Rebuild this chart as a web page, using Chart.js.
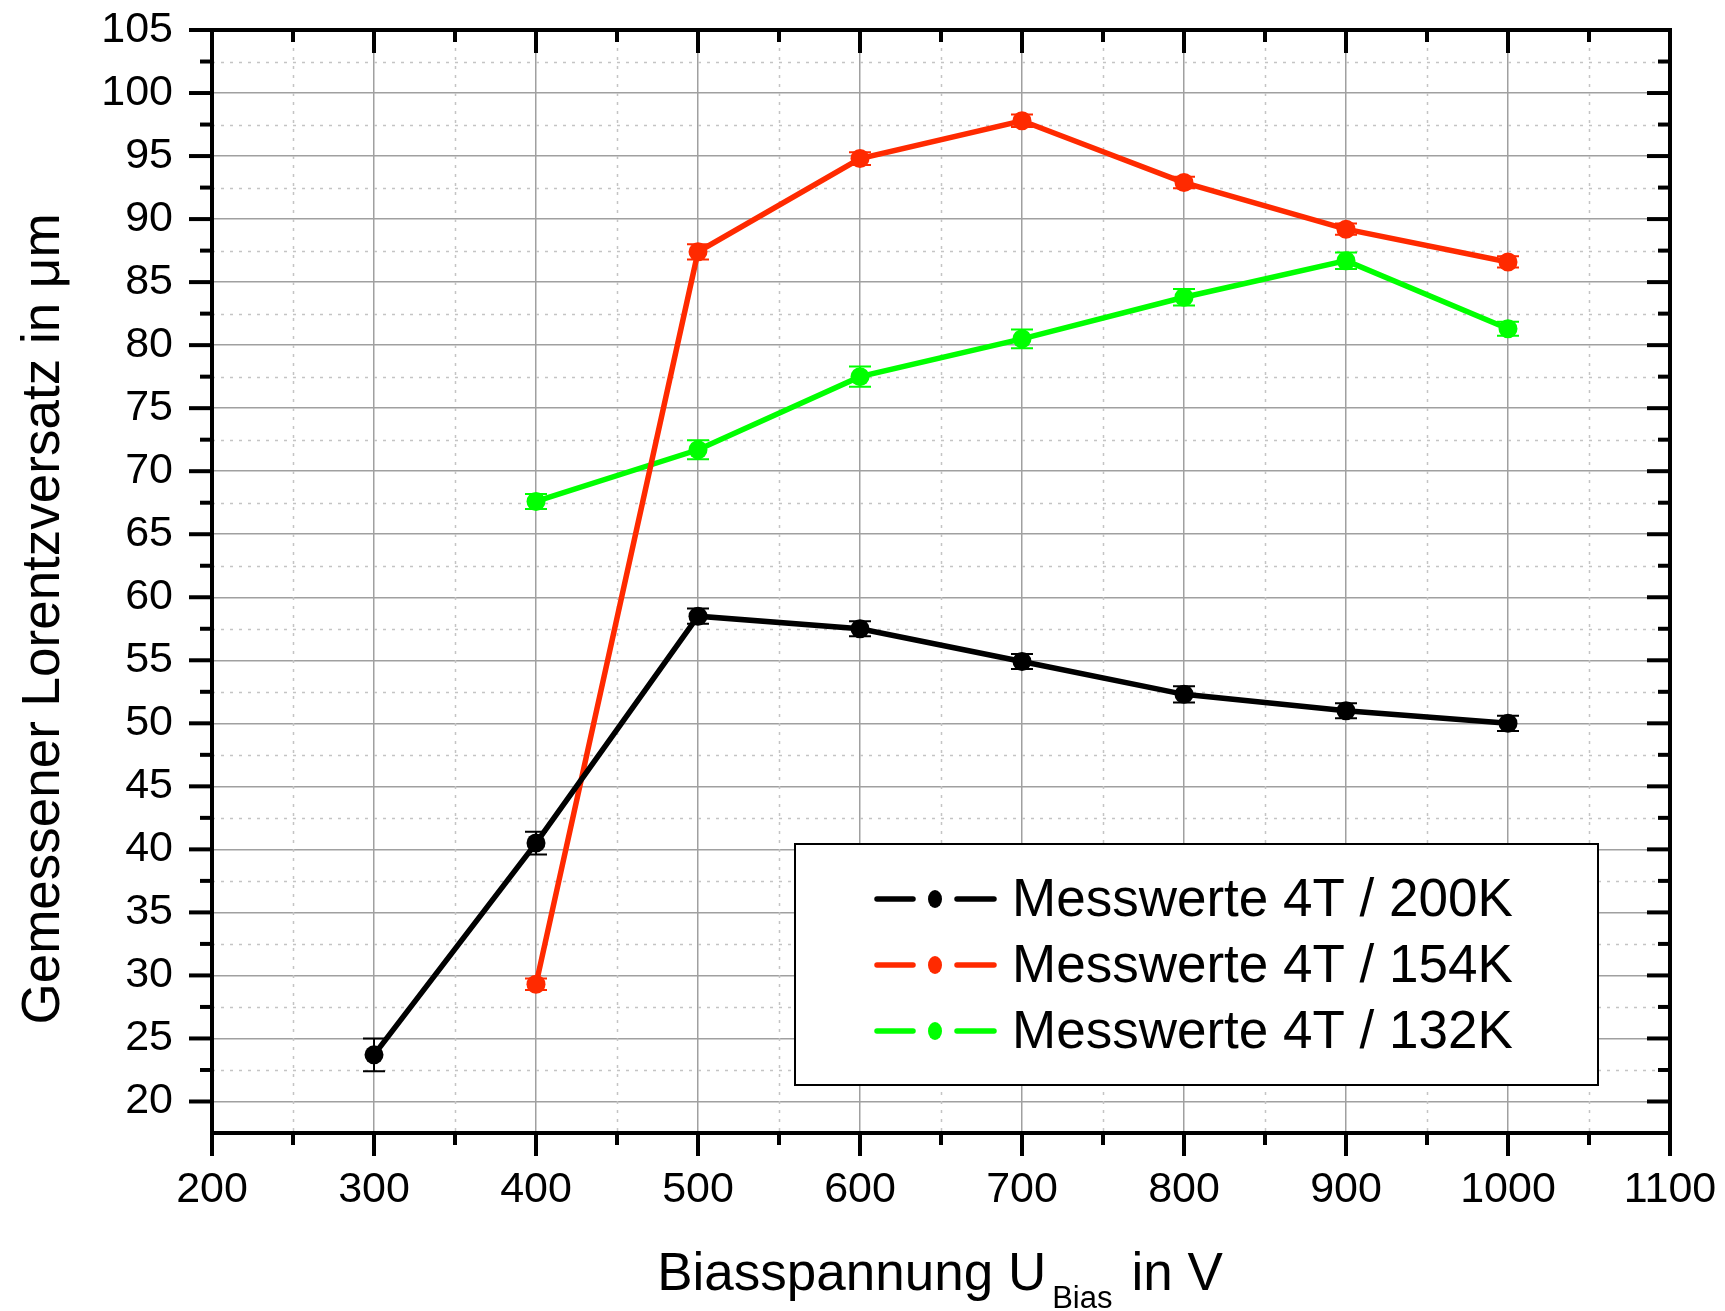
<!DOCTYPE html>
<html><head><meta charset="utf-8">
<script src="https://cdn.jsdelivr.net/npm/chart.js@4.4.0/dist/chart.umd.min.js"></script>
<style>html,body{margin:0;padding:0;background:#fff;overflow:hidden}#wrap{width:1725px;height:1311px;position:relative}</style>
</head><body><div id="wrap"><canvas id="c" width="1725" height="1311"></canvas></div>
<script>
// ---- data ----
const seriesLabels = ['Messwerte 4T / 200K', 'Messwerte 4T / 154K', 'Messwerte 4T / 132K'];
const seriesColors = ['#000000', '#ff2a00', '#00ff00'];

const bias200K = [300, 400, 500, 600, 700, 800, 900, 1000];
const values200K = [23.7, 40.5, 58.5, 57.5, 54.9, 52.3, 51.0, 50.0];
const errors200K = [1.3, 0.9, 0.6, 0.6, 0.6, 0.65, 0.6, 0.6];

const bias154K = [400, 500, 600, 700, 800, 900, 1000];
const values154K = [29.3, 87.4, 94.8, 97.8, 92.9, 89.2, 86.6];
const errors154K = [0.45, 0.6, 0.5, 0.5, 0.45, 0.45, 0.45];

const bias132K = [400, 500, 600, 700, 800, 900, 1000];
const values132K = [67.6, 71.7, 77.5, 80.5, 83.8, 86.7, 81.3];
const errors132K = [0.6, 0.75, 0.8, 0.75, 0.65, 0.65, 0.55];

const xTickValues = [200, 300, 400, 500, 600, 700, 800, 900, 1000, 1100];
const xMinorTicks = [250, 350, 450, 550, 650, 750, 850, 950, 1050];
const yTickValues = [20, 25, 30, 35, 40, 45, 50, 55, 60, 65, 70, 75, 80, 85, 90, 95, 100, 105];
const yMinorTicks = [22.5, 27.5, 32.5, 37.5, 42.5, 47.5, 52.5, 57.5, 62.5, 67.5, 72.5, 77.5, 82.5, 87.5, 92.5, 97.5, 102.5];
const xRange = [200, 1100];
const yRange = [17.5, 105];

const xTitleMain = 'Biasspannung U';
const xTitleSub = 'Bias';
const xTitleEnd = 'in V';
const yTitle = 'Gemessener Lorentzversatz in \u03bcm';

const FONT = "'Liberation Sans', Arial, sans-serif";

function pts(xs, ys) { return xs.map((x, i) => ({ x: x, y: ys[i] })); }

const datasets = [
  { label: seriesLabels[0], data: pts(bias200K, values200K), errors: errors200K },
  { label: seriesLabels[1], data: pts(bias154K, values154K), errors: errors154K },
  { label: seriesLabels[2], data: pts(bias132K, values132K), errors: errors132K }
].map((d, i) => Object.assign(d, {
  borderColor: seriesColors[i], backgroundColor: seriesColors[i],
  pointBackgroundColor: seriesColors[i], pointBorderWidth: 0,
  pointRadius: 9.5, borderWidth: 5.5, tension: 0, fill: false
}));

const decor = {
  id: 'decor',
  beforeDatasetsDraw(chart) {
    const { ctx, chartArea: a, scales: { x, y } } = chart;
    ctx.save();
    ctx.strokeStyle = '#c4c4c4';
    ctx.lineWidth = 1.5;
    ctx.setLineDash([3, 6]);
    xMinorTicks.forEach(v => {
      const px = Math.round(x.getPixelForValue(v)) + 0.5;
      ctx.beginPath(); ctx.moveTo(px, a.top); ctx.lineTo(px, a.bottom); ctx.stroke();
    });
    yMinorTicks.forEach(v => {
      const py = Math.round(y.getPixelForValue(v)) + 0.5;
      ctx.beginPath(); ctx.moveTo(a.left, py); ctx.lineTo(a.right, py); ctx.stroke();
    });
    ctx.restore();
  },
  afterDatasetsDraw(chart) {
    const { ctx, scales: { x, y } } = chart;
    ctx.save();
    chart.data.datasets.forEach(ds => {
      ctx.strokeStyle = ds.borderColor;
      ctx.lineWidth = 2;
      ds.data.forEach((p, i) => {
        const e = ds.errors[i];
        const px = x.getPixelForValue(p.x);
        const y1 = y.getPixelForValue(p.y + e), y2 = y.getPixelForValue(p.y - e);
        ctx.beginPath();
        ctx.moveTo(px, y1); ctx.lineTo(px, y2);
        ctx.moveTo(px - 11, y1); ctx.lineTo(px + 11, y1);
        ctx.moveTo(px - 11, y2); ctx.lineTo(px + 11, y2);
        ctx.stroke();
      });
    });
    ctx.restore();
  },
  afterDraw(chart) {
    const { ctx, chartArea: a, scales: { x, y } } = chart;
    ctx.save();
    // frame
    ctx.strokeStyle = '#000'; ctx.lineWidth = 4; ctx.lineCap = 'square';
    ctx.strokeRect(a.left, a.top, a.right - a.left, a.bottom - a.top);
    ctx.lineCap = 'butt';
    const tick = (x1, y1, x2, y2) => { ctx.beginPath(); ctx.moveTo(x1, y1); ctx.lineTo(x2, y2); ctx.stroke(); };
    const MAJ = 23, MIN = 12;
    xTickValues.forEach(v => {
      const px = x.getPixelForValue(v);
      tick(px, a.bottom, px, a.bottom + MAJ);
      tick(px, a.top, px, a.top + MAJ);
    });
    xMinorTicks.forEach(v => {
      const px = x.getPixelForValue(v);
      tick(px, a.bottom, px, a.bottom + MIN);
      tick(px, a.top, px, a.top + MIN);
    });
    yTickValues.forEach(v => {
      const py = y.getPixelForValue(v);
      tick(a.left - MAJ, py, a.left, py);
      tick(a.right - MAJ, py, a.right, py);
    });
    yMinorTicks.forEach(v => {
      const py = y.getPixelForValue(v);
      tick(a.left - MIN, py, a.left, py);
      tick(a.right - MIN, py, a.right, py);
    });

    // legend
    const L = { x: 795, y: 844, w: 803, h: 241 };
    ctx.fillStyle = '#fff';
    ctx.fillRect(L.x, L.y, L.w, L.h);
    ctx.lineWidth = 2; ctx.strokeStyle = '#000';
    ctx.strokeRect(L.x, L.y, L.w, L.h);
    ctx.font = '53px ' + FONT;
    ctx.textBaseline = 'middle'; ctx.textAlign = 'left';
    chart.data.datasets.forEach((ds, i) => {
      const ry = 899 + i * 66;
      ctx.strokeStyle = ds.borderColor; ctx.lineWidth = 5.5; ctx.lineCap = 'round';
      tick(877, ry, 913, ry);
      tick(957, ry, 994, ry);
      ctx.fillStyle = ds.borderColor;
      ctx.beginPath(); ctx.ellipse(935, ry, 7, 9, 0, 0, Math.PI * 2); ctx.fill();
      ctx.fillStyle = '#000';
      ctx.fillText(ds.label, 1012, ry + 2);
    });

    // axis titles
    ctx.fillStyle = '#000';
    ctx.save();
    ctx.translate(44, 619);
    ctx.rotate(-Math.PI / 2);
    ctx.font = '53px ' + FONT;
    ctx.textAlign = 'center'; ctx.textBaseline = 'middle';
    ctx.fillText(yTitle, 0, 0);
    ctx.restore();

    ctx.textAlign = 'left'; ctx.textBaseline = 'alphabetic';
    ctx.font = '53px ' + FONT;
    const w1 = ctx.measureText(xTitleMain).width;
    ctx.font = '31px ' + FONT;
    const w2 = ctx.measureText(xTitleSub).width;
    ctx.font = '53px ' + FONT;
    const w3 = ctx.measureText(xTitleEnd).width;
    const gap1 = 6, gap2 = 19;
    let tx = 940 - (w1 + gap1 + w2 + gap2 + w3) / 2;
    ctx.fillText(xTitleMain, tx, 1290);
    tx += w1 + gap1;
    ctx.font = '31px ' + FONT;
    ctx.fillText(xTitleSub, tx, 1308);
    tx += w2 + gap2;
    ctx.font = '53px ' + FONT;
    ctx.fillText(xTitleEnd, tx, 1290);
    ctx.restore();
  }
};

function noPad(s) { s.paddingLeft = 0; s.paddingRight = 0; s.paddingTop = 0; s.paddingBottom = 0; }

new Chart(document.getElementById('c'), {
  type: 'line',
  data: { datasets: datasets },
  plugins: [decor],
  options: {
    responsive: false, animation: false, devicePixelRatio: 1,
    layout: { padding: { left: 0, top: 30, right: 55, bottom: 0 } },
    plugins: { legend: { display: false }, tooltip: { enabled: false } },
    scales: {
      x: {
        type: 'linear', min: xRange[0], max: xRange[1], offset: false,
        afterFit: s => { s.height = 178; noPad(s); },
        afterBuildTicks: s => { s.ticks = xTickValues.map(v => ({ value: v })); },
        grid: { color: '#a0a0a0', lineWidth: 1.5, drawTicks: false },
        border: { display: false },
        ticks: { color: '#000', font: { family: FONT, size: 43 }, padding: 31, maxRotation: 0, autoSkip: false, callback: v => String(v) }
      },
      y: {
        type: 'linear', min: yRange[0], max: yRange[1],
        afterFit: s => { s.width = 212; noPad(s); },
        afterBuildTicks: s => { s.ticks = yTickValues.map(v => ({ value: v })); },
        grid: { color: '#a0a0a0', lineWidth: 1.5, drawTicks: false },
        border: { display: false },
        ticks: { color: '#000', font: { family: FONT, size: 43 }, padding: 39, autoSkip: false, callback: v => String(v) }
      }
    }
  }
});
</script>
</body></html>
